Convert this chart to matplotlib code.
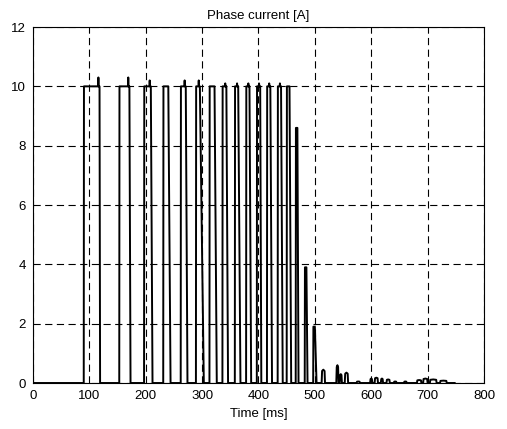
import numpy as np
import matplotlib
matplotlib.use("Agg")
import matplotlib.pyplot as plt

# ---- data ----
pulse_rise = [90, 153, 197, 231, 262, 289, 313, 336, 358, 378, 397, 415, 434, 450, 466, 482, 497]
pulse_fall_top = [118, 171, 209, 240, 271, 296, 322, 343, 364, 384, 403, 421, 440, 455, 469, 485, 500]
pulse_fall_bot = [119, 173, 212, 244, 274, 303, 326, 346, 368, 387, 405, 424, 443, 458, 471, 487, 503]
pulse_level = [10, 10, 10, 10, 10, 10, 10, 10, 10, 10, 10, 10, 10, 10, 8.6, 3.9, 1.9]
pulse_spike = [10.3, 10.3, 10.2, 10.0, 10.2, 10.2, 10.0, 10.1, 10.1, 10.1, 10.1, 10.1, 10.1, 10.0, 8.6, 3.9, 1.9]

tail_start = [512, 538, 544, 553, 574, 598, 606, 617, 627, 640, 658, 681, 692, 704, 722]
tail_end = [518, 542, 548, 559, 580, 602, 612, 621, 633, 645, 663, 689, 700, 716, 734]
tail_peak = [0.45, 0.6, 0.3, 0.35, 0.05, 0.15, 0.18, 0.15, 0.12, 0.05, 0.05, 0.1, 0.15, 0.12, 0.08]

t_end = 748

x_ticks = [0, 100, 200, 300, 400, 500, 600, 700, 800]
y_ticks = [0, 2, 4, 6, 8, 10, 12]

# ---- build waveform from pulse descriptions ----
t = [0.0]
i = [0.0]
for r, ft, fb, lv, sp in zip(pulse_rise, pulse_fall_top, pulse_fall_bot, pulse_level, pulse_spike):
    t += [r, r + 0.4]
    i += [0, lv]
    st = ft - 2.0
    if sp != lv:
        t += [st - 0.5, st, st + 0.5]
        i += [lv, sp, lv]
    t += [ft, fb]
    i += [lv, 0]
for s, e, p in zip(tail_start, tail_end, tail_peak):
    m = 0.5 * (s + e)
    t += [s, s + 0.8, m, e - 0.8, e]
    i += [0, p * 0.9, p, p * 0.9, 0]
t.append(t_end)
i.append(0.0)

plt.rcParams['font.family'] = ['Liberation Sans', 'DejaVu Sans']
fig = plt.figure(figsize=(5.07, 4.29), dpi=100)
ax = fig.add_axes([0.0651, 0.1072, 0.8895, 0.8298])
ax.plot(t, i, color='black', linewidth=1.4)
ax.set_xlim(0, 800)
ax.set_ylim(0, 12)
ax.set_xticks(x_ticks)
ax.set_yticks(y_ticks)
ax.grid(True, color='black', linestyle=(0, (6.5, 4)), linewidth=0.8)
ax.tick_params(direction='in', top=True, right=True, labelsize=9.5, length=4, width=0.6, pad=5)
for sp in ax.spines.values():
    sp.set_linewidth(0.8)
ax.set_title('Phase current [A]', fontsize=9.5, pad=6)
ax.set_xlabel('Time [ms]', fontsize=9.5, labelpad=4)
fig.savefig('out.png', dpi=100)
